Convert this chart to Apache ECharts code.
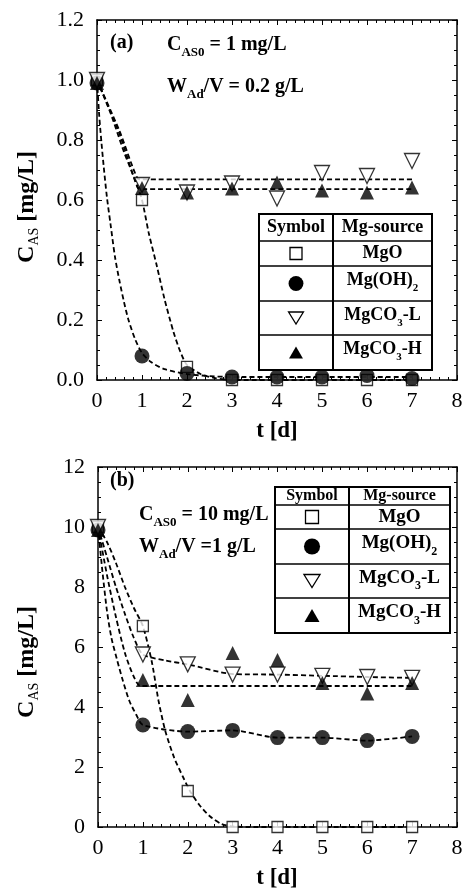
<!DOCTYPE html>
<html>
<head>
<meta charset="utf-8">
<script src="https://cdn.jsdelivr.net/npm/echarts@6/dist/echarts.min.js"></script>
<style>
  html, body { margin: 0; padding: 0; background: #fff; }
  #chart { width: 468px; height: 893px; }
</style>
</head>
<body>
<div id="chart"></div>
<script>
// Sampling days
const days = [0, 1, 2, 3, 4, 5, 6, 7];

// Panel (a): C_AS0 = 1 mg/L, W_Ad/V = 0.2 g/L
const aMgO   = [1.00, 0.60, 0.044, 0.00, 0.00, 0.00, 0.00, 0.00];
const aMgOH2 = [0.99, 0.08, 0.022, 0.010, 0.010, 0.010, 0.015, 0.005];
const aCO3L  = [1.00, 0.65, 0.625, 0.655, 0.605, 0.690, 0.680, 0.730];
const aCO3H  = [0.99, 0.64, 0.625, 0.638, 0.658, 0.632, 0.625, 0.642];

// Panel (a) fitted curves [t, C]
const aFitMgO   = [[0,1.0],[0.3,0.89],[0.6,0.76],[0.85,0.665],[1,0.60],[1.15,0.49],[1.33,0.38],[1.5,0.27],[1.7,0.16],[1.85,0.095],[2,0.05],[2.3,0.02],[2.6,0.007],[3,0.0],[7,0.0]];
const aFitMgOH2 = [[0,1.0],[0.05,0.88],[0.1,0.79],[0.15,0.71],[0.22,0.61],[0.3,0.52],[0.4,0.41],[0.5,0.33],[0.6,0.26],[0.7,0.20],[0.85,0.135],[1,0.09],[1.2,0.06],[1.5,0.036],[2,0.02],[2.5,0.013],[3,0.01],[7,0.01]];
const aFitCO3L  = [[0,1.0],[0.5,0.83],[0.9,0.672],[1,0.669],[7,0.669]];
const aFitCO3H  = [[0,1.0],[0.5,0.82],[0.9,0.642],[1,0.636],[7,0.636]];

// Panel (b): C_AS0 = 10 mg/L, W_Ad/V = 1 g/L
const bMgO   = [10.0, 6.70, 1.20, 0.00, 0.00, 0.00, 0.00, 0.00];
const bMgOH2 = [9.9, 3.40, 3.18, 3.22, 2.98, 2.98, 2.88, 3.02];
const bCO3L  = [10.0, 5.75, 5.42, 5.08, 5.08, 5.04, 5.00, 4.97];
const bCO3H  = [9.9, 4.90, 4.23, 5.80, 5.57, 4.80, 4.45, 4.80];

// Panel (b) fitted curves [t, C]
const bFitMgO   = [[0,10],[0.2,9.5],[0.4,8.8],[0.6,8.0],[0.8,7.3],[1,6.7],[1.2,5.5],[1.35,4.2],[1.5,3.2],[1.7,2.3],[1.9,1.65],[2.05,1.2],[2.25,0.75],[2.5,0.35],[2.75,0.1],[3,0.02],[3.3,0.0],[7,0.0]];
const bFitMgOH2 = [[0,10],[0.1,8.5],[0.2,7.2],[0.3,6.3],[0.42,5.6],[0.55,4.9],[0.7,4.2],[0.85,3.75],[1,3.4],[2,3.18],[3,3.22],[4,2.98],[5,2.98],[6,2.88],[7,3.02]];
const bFitCO3L  = [[0,10],[0.2,9.0],[0.4,8.0],[0.6,7.1],[0.8,6.3],[1,5.75],[1.5,5.55],[2,5.42],[3,5.1],[4,5.08],[5,5.04],[6,5.0],[7,4.97]];
const bFitCO3H  = [[0,10],[0.2,8.4],[0.4,7.0],[0.6,5.8],[0.8,5.0],[0.95,4.7],[7,4.7]];

// Axis tick labels
const xTicks = [0, 1, 2, 3, 4, 5, 6, 7, 8];
const yTicksA = ['0.0', '0.2', '0.4', '0.6', '0.8', '1.0', '1.2'];
const yTicksB = ['0', '2', '4', '6', '8', '10', '12'];

const SERIF = '"Liberation Serif", "Times New Roman", serif';
const chart = echarts.init(document.getElementById('chart'), null, { renderer: 'canvas' });

// text width measuring for subscripted labels
const mctx = document.createElement('canvas').getContext('2d');
function fontOf(size, bold) { return (bold ? 'bold ' : '') + size + 'px ' + SERIF; }
function widthOf(t, font) { mctx.font = font; return mctx.measureText(t).width; }

// parts: [text, size, bold, dy]; lays out runs of text one after another
function runs(parts, x, y, align) {
  let total = 0;
  parts.forEach(p => { total += widthOf(p[0], fontOf(p[1], p[2])); });
  let cx = align === 'center' ? x - total / 2 : x;
  return parts.map(p => {
    const font = fontOf(p[1], p[2]);
    const el = {
      type: 'text', x: cx, y: y + (p[3] || 0), z: 100,
      style: { text: p[0], font: font, fill: '#000', align: 'left', verticalAlign: 'middle',
               textAlign: 'left', textVerticalAlign: 'middle' }
    };
    cx += widthOf(p[0], font);
    return el;
  });
}

function zip(xs, ys) { return xs.map((x, i) => [x, ys[i]]); }

const frame = { lineStyle: { color: '#000', width: 1.5 } };
function xAxisDef(gi, pos, showLabel) {
  return {
    type: 'value', gridIndex: gi, position: pos, min: 0, max: 8, interval: 1,
    axisLine: { show: true, onZero: false, ...frame },
    axisTick: { show: true, inside: true, length: 5, lineStyle: { color: '#000', width: 1 } },
    minorTick: { show: true, splitNumber: 5, length: 3, lineStyle: { color: '#000', width: 1 } },
    splitLine: { show: false },
    axisLabel: { show: showLabel, color: '#000', fontFamily: SERIF, fontSize: 22, margin: 10,
                 formatter: v => String(xTicks[Math.round(v)]) }
  };
}
function yAxisDef(gi, pos, showLabel, max, interval, labels) {
  return {
    type: 'value', gridIndex: gi, position: pos, min: 0, max: max, interval: interval,
    axisLine: { show: true, onZero: false, ...frame },
    axisTick: { show: true, inside: true, length: 5, lineStyle: { color: '#000', width: 1 } },
    minorTick: { show: true, splitNumber: 4, length: 3, lineStyle: { color: '#000', width: 1 } },
    splitLine: { show: false },
    axisLabel: { show: showLabel, color: '#000', fontFamily: SERIF, fontSize: 22, margin: 13,
                 formatter: v => labels[Math.round(v / interval)] }
  };
}

const dash = { color: '#000', width: 1.8, type: [5, 3] };
function fit(data, xi, yi) {
  return { type: 'line', xAxisIndex: xi, yAxisIndex: yi, data: data, showSymbol: false,
           smooth: 0.25, lineStyle: dash, z: 2, silent: true };
}
const SQ = { symbol: 'rect', symbolSize: 11, itemStyle: { color: '#fff', borderColor: '#000', borderWidth: 1.3 } };
const CI = { symbol: 'circle', symbolSize: 15, itemStyle: { color: '#000' } };
const DT = { symbol: 'triangle', symbolSize: 15, symbolRotate: 180, itemStyle: { color: '#fff', borderColor: '#000', borderWidth: 1.3 } };
const UT = { symbol: 'triangle', symbolSize: 14, itemStyle: { color: '#000' } };
function pts(ys, style, xi, yi) {
  return { type: 'scatter', xAxisIndex: xi, yAxisIndex: yi, data: zip(days, ys), z: 5, ...style };
}

// legend table
function table(x0, xd, x1, rows, headSize, fontSize, sym) {
  const els = [];
  const top = rows[0], bot = rows[rows.length - 1];
  els.push({ type: 'rect', z: 90, shape: { x: x0, y: top, width: x1 - x0, height: bot - top },
             style: { fill: '#fff', stroke: '#000', lineWidth: 2 } });
  els.push({ type: 'line', z: 91, shape: { x1: xd, y1: top, x2: xd, y2: bot }, style: { stroke: '#000', lineWidth: 2 } });
  for (let i = 1; i < rows.length - 1; i++) {
    els.push({ type: 'line', z: 91, shape: { x1: x0, y1: rows[i], x2: x1, y2: rows[i] }, style: { stroke: '#000', lineWidth: 1.6 } });
  }
  const c1 = (x0 + xd) / 2, c2 = (xd + x1) / 2;
  const mid = i => (rows[i] + rows[i + 1]) / 2;
  els.push(...runs([['Symbol', headSize, true, 0]], c1, mid(0), 'center'));
  els.push(...runs([['Mg-source', headSize, true, 0]], c2, mid(0), 'center'));
  const sub = Math.round(fontSize * 0.62);
  els.push(...runs([['MgO', fontSize, true, 0]], c2, mid(1), 'center'));
  els.push(...runs([['Mg(OH)', fontSize, true, -3], ['2', sub, true, 5]], c2, mid(2), 'center'));
  els.push(...runs([['MgCO', fontSize, true, -3], ['3', sub, true, 5], ['-L', fontSize, true, -3]], c2, mid(3), 'center'));
  els.push(...runs([['MgCO', fontSize, true, -3], ['3', sub, true, 5], ['-H', fontSize, true, -3]], c2, mid(4), 'center'));
  const s = sym;
  els.push({ type: 'rect', z: 95, shape: { x: c1 - s / 2, y: mid(1) - s / 2, width: s, height: s },
             style: { fill: '#fff', stroke: '#000', lineWidth: 1.3 } });
  els.push({ type: 'circle', z: 95, shape: { cx: c1, cy: mid(2), r: s * 0.62 }, style: { fill: '#000' } });
  const h = s * 1.0;
  els.push({ type: 'polygon', z: 95, shape: { points: [[c1 - s * 0.62, mid(3) - h / 2], [c1 + s * 0.62, mid(3) - h / 2], [c1, mid(3) + h / 2]] },
             style: { fill: '#fff', stroke: '#000', lineWidth: 1.3 } });
  els.push({ type: 'polygon', z: 95, shape: { points: [[c1 - s * 0.58, mid(4) + h / 2], [c1 + s * 0.58, mid(4) + h / 2], [c1, mid(4) - h / 2]] },
             style: { fill: '#000' } });
  return els;
}

// rotated axis title C_AS [mg/L]
function yTitle(cx, cy, size) {
  return {
    type: 'group', x: cx, y: cy, rotation: Math.PI / 2, z: 100,
    children: runs([['C', size, true, 0], ['AS', Math.round(size * 0.6), false, 7], [' [mg/L]', size, true, 0]], 0, 0, 'center')
  };
}

const graphics = [
  // panel (a)
  ...runs([['(a)', 20, true, 0]], 110, 43, 'left'),
  ...runs([['C', 20, true, 0], ['AS0', 13, true, 8], [' = 1 mg/L', 20, true, 0]], 167, 45, 'left'),
  ...runs([['W', 20, true, 0], ['Ad', 13, true, 8], ['/V = 0.2 g/L', 20, true, 0]], 167, 87, 'left'),
  ...table(259, 333, 432, [214, 241, 266, 301, 335, 370], 18, 18, 12),
  yTitle(27, 207, 24),
  ...runs([['t [d]', 23, true, 0]], 277, 431, 'center'),
  // panel (b)
  ...runs([['(b)', 20, true, 0]], 110, 481, 'left'),
  ...runs([['C', 20, true, 0], ['AS0', 13, true, 8], [' = 10 mg/L', 20, true, 0]], 139, 515, 'left'),
  ...runs([['W', 20, true, 0], ['Ad', 13, true, 8], ['/V =1 g/L', 20, true, 0]], 139, 547, 'left'),
  ...table(275, 349, 450, [487, 505, 529, 564, 598, 633], 16, 19, 13),
  yTitle(27, 662, 24),
  ...runs([['t [d]', 23, true, 0]], 277, 878, 'center')
];

const option = {
  backgroundColor: '#fff',
  animation: false,
  grid: [
    { left: 97, top: 20, width: 360, height: 360 },
    { left: 98, top: 467, width: 359, height: 360 }
  ],
  xAxis: [
    xAxisDef(0, 'bottom', true), xAxisDef(0, 'top', false),
    xAxisDef(1, 'bottom', true), xAxisDef(1, 'top', false)
  ],
  yAxis: [
    yAxisDef(0, 'left', true, 1.2, 0.2, yTicksA), yAxisDef(0, 'right', false, 1.2, 0.2, yTicksA),
    yAxisDef(1, 'left', true, 12, 2, yTicksB), yAxisDef(1, 'right', false, 12, 2, yTicksB)
  ],
  series: [
    fit(aFitMgO, 0, 0), fit(aFitMgOH2, 0, 0), fit(aFitCO3L, 0, 0), fit(aFitCO3H, 0, 0),
    pts(aMgO, SQ, 0, 0), pts(aMgOH2, CI, 0, 0), pts(aCO3L, DT, 0, 0), pts(aCO3H, UT, 0, 0),
    fit(bFitMgO, 2, 2), fit(bFitMgOH2, 2, 2), fit(bFitCO3L, 2, 2), fit(bFitCO3H, 2, 2),
    pts(bMgO, SQ, 2, 2), pts(bMgOH2, CI, 2, 2), pts(bCO3L, DT, 2, 2), pts(bCO3H, UT, 2, 2)
  ],
  graphic: { elements: graphics }
};
chart.setOption(option);
</script>
</body>
</html>
